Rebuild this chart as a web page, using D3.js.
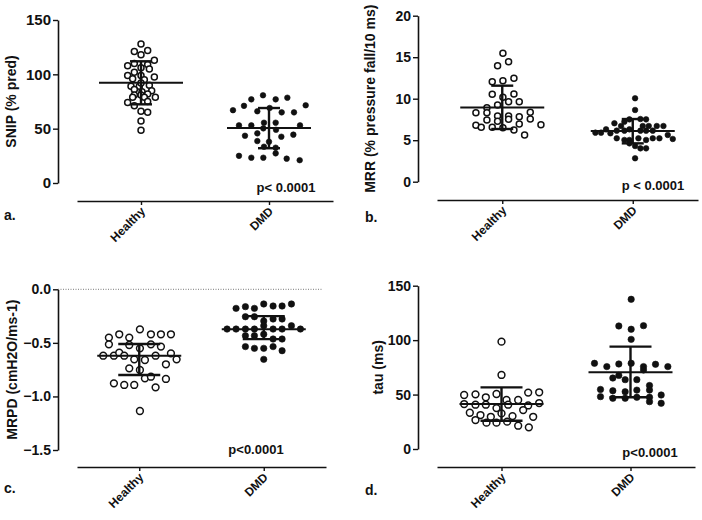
<!DOCTYPE html>
<html>
<head>
<meta charset="utf-8">
<script src="https://cdnjs.cloudflare.com/ajax/libs/d3/7.8.5/d3.min.js"></script>
<style>
body{margin:0;background:#fff;}
svg text{font-family:"Liberation Sans",Arial,sans-serif;font-weight:bold;fill:#111;}
.cat{transform-box:view-box;}
</style>
</head>
<body>
<svg id="chart" width="702" height="520"></svg>
<script>

var categories = ["Healthy", "DMD"];

// a. SNIP (% pred) -- values and horizontal slot of each dot
var snipHealthy    = [128,121,122,118,113,108,110,109,106,105,99,102,99,97.5,96,95,89,89,90,92,86,85,84,81,81,82,79,79,79,74,75,71,66,65,57,48.5];
var snipHealthyOff = [0,-1,1,0,2,-2,-1,1,0,1.25,-2,-1,0,2,-1.25,0.5,-1.5,-0.25,1.25,0,-1,1.6,0.15,-1,0,1,-1.25,2.15,0.5,-2,1,-1,0,1,0,0];
var snipDmd        = [80.7,77,77,78.5,67,71,66,69,71.5,65,65,53,53,55.5,55.5,53,50.3,49,43.5,45.7,42.6,44.5,38.6,38,33.4,32.5,27.3,25,23.3,23.3,22.4,21];
var snipDmdOff     = [-0.9,-2.65,1,2.75,-5.4,-3.75,-1.75,0.1,5.5,1.9,3.75,-4.5,-2.65,-0.75,1,4.65,-0.85,1.05,-3.6,-1.75,1.85,3.65,-1.75,0,-0.75,1,1,-4.5,-2.65,-0.85,2.65,4.6];
var snipBar        = [[92.3,72.4,112],[50.6,32,69]];   // centre, low, high

// b. MRR (% pressure fall/10 ms)
var mrrHealthy     = [15.47,13.98,14.46,12.05,12.17,12.45,10.53,10.57,10.17,9.64,9.64,9.24,8.92,8.31,8.31,7.92,7.92,7.83,8.36,7.43,7.28,7.52,7.55,6.95,6.8,6.55,6.55,6.5,6.23,6.87,5.63];
var mrrHealthyOff  = [0.1,-0.7,0.95,-1.5,0.1,1.75,-1.5,1.75,0.1,0.95,2.55,-0.7,-2.3,-3.95,-2.3,-0.7,0.95,2.55,4.2,-2.3,-0.7,0.95,4.2,2.55,-3.95,-3.15,-1.5,0.1,1.75,5.8,3.35];
var mrrDmd         = [10.05,8.64,7.23,7.51,7.55,7.51,7.04,6.71,6.71,6.71,6.71,6.71,5.91,5.91,6.31,5.83,6.15,6.15,6.31,6.15,6.15,6.15,5.63,5.15,5.23,5.03,5.03,5.23,5.03,5.23,5.23,4.62,4.3,4.02,4.02,2.82];
var mrrDmdOff      = [0.35,0.35,-1.25,-0.5,1.15,2,-2.75,-1.75,1.5,2.4,3.6,4.6,-5.6,-4.75,-4,-3.35,-2.4,-1.25,-0.5,1.15,2,3,5.25,6,-2.4,-1.25,-0.5,0.85,2,3,4,-0.5,0.35,1.15,2,0.35];
var mrrBar         = [[8.95,6.35,11.57],[6.1,4.62,7.55]];

// c. MRPD (cmH2O/ms-1)
var mrpdHealthy    = [-0.374,-0.451,-0.42,-0.451,-0.42,-0.42,-0.42,-0.514,-0.52,-0.514,-0.535,-0.551,-0.62,-0.62,-0.592,-0.62,-0.62,-0.598,-0.654,-0.66,-0.654,-0.7,-0.738,-0.753,-0.831,-0.816,-0.837,-0.878,-0.893,-0.893,-0.915,-1.136];
var mrpdHealthyOff = [0.1,-4.55,-3,-1.5,1.75,3.25,4.75,-4.55,-1.5,1.75,3.25,0.1,-5.4,-3.8,-3,-2.25,2.45,4.75,-0.75,0.85,5.6,4,-1.5,0.1,0.85,1.75,4,-3.8,-2.25,-0.75,2.45,0.1];
var mrpdDmd        = [-0.178,-0.162,-0.178,-0.137,-0.156,-0.156,-0.137,-0.256,-0.256,-0.296,-0.277,-0.277,-0.371,-0.371,-0.371,-0.371,-0.34,-0.371,-0.371,-0.34,-0.371,-0.433,-0.433,-0.42,-0.464,-0.464,-0.535,-0.551,-0.551,-0.535,-0.573,-0.654];
var mrpdDmdOff     = [-4.15,-2.75,-1.4,0,1.4,2.75,4.15,-2.75,-1.4,0,1.4,2.75,-5.5,-4.15,-2.75,-1.4,0,1.4,2.75,4.15,5.5,-2.75,-1.4,0,1.4,2.75,-2.75,-1.4,0,1.4,2.75,0];
var mrpdBar        = [[-0.62,-0.8,-0.51],[-0.372,-0.465,-0.25]];

// d. tau (ms)
var tauHealthy     = [98.6,68,49.6,50.2,47.5,50.5,45,45,51.8,52.1,41.3,40.7,40.7,37.6,40.7,40,42.2,33.3,31.2,29.6,32.7,30.2,35.8,29.6,26.6,24.2,24.2,25.1,21.4,19.9];
var tauHealthyOff  = [0,0,-5.6,-3.9,-2.35,-0.75,0.75,2.5,4,5.65,-5.6,-3.9,-2.35,-0.75,1,4,5.65,-4.75,-3.15,-1.6,0,1.65,3.25,4.75,-3.9,-2.25,-0.75,0.85,2.5,4.1];
var tauDmd         = [137.5,113,110,113.3,100.7,78.7,75.7,78.1,78.7,75.7,77.8,75.7,72.6,67.6,65.2,63.7,63.7,58.3,54.7,53.5,52.6,54.1,54.1,48.1,46.6,46.6,47.5,47.5,43.5,49.6,42];
var tauDmdOff      = [0.1,-1.75,0.1,1.95,0.1,-5.4,-3.55,-1.75,0.1,1.95,3.75,5.6,1.95,-1.75,-2.65,-0.8,0.95,2.85,-4.5,-2.65,-0.8,0.95,2.85,-4.5,-2.65,-0.8,0.95,2.85,2.85,4.6,4.6];
var tauBar         = [[41.3,26,56.6],[70.5,47.5,94]];

var panels = [
  {tag:"a.", title:"SNIP (% pred)", p:"p< 0.0001",
   groups:[[snipHealthy,snipHealthyOff],[snipDmd,snipDmdOff]], bars:snipBar,
   domain:[0,150], ticks:[0,50,100,150], fmt:d3.format("d"),
   ax:58, y0:183, y1:20, xl:77, xr:333, xy:201, titleX:16, tickFont:15,
   tagX:4, tagY:220, px:286, py:192, r:3, cap:11},
  {tag:"b.", title:"MRR (% pressure fall/10 ms)", p:"p < 0.0001",
   groups:[[mrrHealthy,mrrHealthyOff],[mrrDmd,mrrDmdOff]], bars:mrrBar,
   domain:[0,20], ticks:[0,5,10,15,20], fmt:d3.format("d"),
   ax:418, y0:181.7, y1:15.7, xl:437, xr:698, xy:200, titleX:375, tickFont:14,
   tagX:365, tagY:222, px:653, py:190, r:3, cap:11},
  {tag:"c.", title:"MRPD (cmH2O/ms-1)", p:"p<0.0001",
   groups:[[mrpdHealthy,mrpdHealthyOff],[mrpdDmd,mrpdDmdOff]], bars:mrpdBar,
   domain:[0,-1.5], ticks:[0,-0.5,-1,-1.5], fmt:d3.format(".1f"),
   ax:58, y0:289.3, y1:450, xl:77, xr:326, xy:467, titleX:17, zero:323, tickFont:14,
   tagX:4, tagY:493, px:256, py:454, r:3.4, cap:21},
  {tag:"d.", title:"tau (ms)", p:"p<0.0001",
   groups:[[tauHealthy,tauHealthyOff],[tauDmd,tauDmdOff]], bars:tauBar,
   domain:[0,150], ticks:[0,50,100,150], fmt:d3.format("d"),
   ax:418, y0:449, y1:285.7, xl:437, xr:695, xy:467, titleX:383, tickFont:14,
   tagX:365, tagY:495, px:650, py:457, r:3.4, cap:21}
];

var svg = d3.select("#chart");

// one slot = horizontal step between neighbouring dots
var slot = d3.scaleLinear().domain([0, 1]).range([0, 6.67]);

panels.forEach(drawPanel);

function drawPanel(p){

    var g = svg.append("g");

    var y = d3.scaleLinear().domain(p.domain).range([p.y0, p.y1]);
    var x = d3.scalePoint().domain(categories).range([p.xl, p.xr]).padding(0.5);

    // dotted zero line (only panel c)
    if (p.zero) {
	g.append("line")
	    .attr("x1", p.ax).attr("x2", p.zero)
	    .attr("y1", y(0)).attr("y2", y(0))
	    .attr("stroke", "#777").attr("stroke-width", 1)
	    .attr("stroke-dasharray", "1,1.5");
    }

    var yAxis = g.append("g")
	.attr("transform", "translate(" + p.ax + ",0)")
	.call(d3.axisLeft(y).tickValues(p.ticks).tickFormat(p.fmt)
	      .tickSize(5).tickSizeOuter(0).tickPadding(2));

    var xAxis = g.append("g")
	.attr("transform", "translate(0," + p.xy + ")")
	.call(d3.axisBottom(x).tickSize(4).tickSizeOuter(0).tickFormat(""));

    [yAxis, xAxis].forEach(function(a){
	a.select(".domain").attr("stroke", "#111").attr("stroke-width", 1.6);
	a.selectAll(".tick line").attr("stroke", "#111").attr("stroke-width", 1.4);
    });
    yAxis.selectAll(".tick text").style("font-size", p.tickFont + "px").attr("fill", "#111");

    // slanted category labels
    g.selectAll(".cat")
	.data(categories)
	.enter().append("text")
	.attr("class", "cat")
	.attr("text-anchor", "end")
	.style("font-size", "12px")
	.style("transform-origin", "0 0")
	.style("transform", function(d){
	    return "translate(" + (x(d) + 5) + "px," + (p.xy + 11) + "px) rotate(-45deg)";
	})
	.text(function(d){ return d; });

    // y title
    g.append("text")
	.attr("transform", "translate(" + p.titleX + "," + ((p.y0 + p.y1) / 2) + ") rotate(-90)")
	.attr("text-anchor", "middle")
	.style("font-size", "14px")
	.text(p.title);

    g.append("text")
	.attr("x", p.tagX).attr("y", p.tagY)
	.style("font-size", "14px")
	.text(p.tag);

    g.append("text")
	.attr("x", p.px).attr("y", p.py)
	.attr("text-anchor", "middle")
	.style("font-size", "13px")
	.text(p.p);

    // dots
    p.groups.forEach(function(grp, gi){
	var vals = grp[0], offs = grp[1];
	var cx = x(categories[gi]);
	g.append("g").selectAll("circle")
	    .data(vals)
	    .enter().append("circle")
	    .attr("cx", function(d, i){ return cx + slot(offs[i]); })
	    .attr("cy", function(d){ return y(d); })
	    .attr("r", gi == 0 ? p.r : p.r - 0.2)
	    .attr("fill", gi == 0 ? "#fff" : "#111")
	    .attr("stroke", "#111")
	    .attr("stroke-width", gi == 0 ? 1.5 : 0.6);
    });

    // mean / spread bars
    var bar = g.append("g").attr("stroke", "#111").attr("stroke-width", 2);
    p.bars.forEach(function(b, gi){
	var cx = x(categories[gi]);
	bar.append("line").attr("x1", cx - 42).attr("x2", cx + 42)
	    .attr("y1", y(b[0])).attr("y2", y(b[0]));
	bar.append("line").attr("x1", cx).attr("x2", cx)
	    .attr("y1", y(b[1])).attr("y2", y(b[2]))
	    .attr("stroke-width", 2.4);
	[b[1], b[2]].forEach(function(v){
	    bar.append("line").attr("x1", cx - p.cap).attr("x2", cx + p.cap)
		.attr("y1", y(v)).attr("y2", y(v))
		.attr("stroke-width", 2.4);
	});
    });
}

</script>
</body>
</html>
